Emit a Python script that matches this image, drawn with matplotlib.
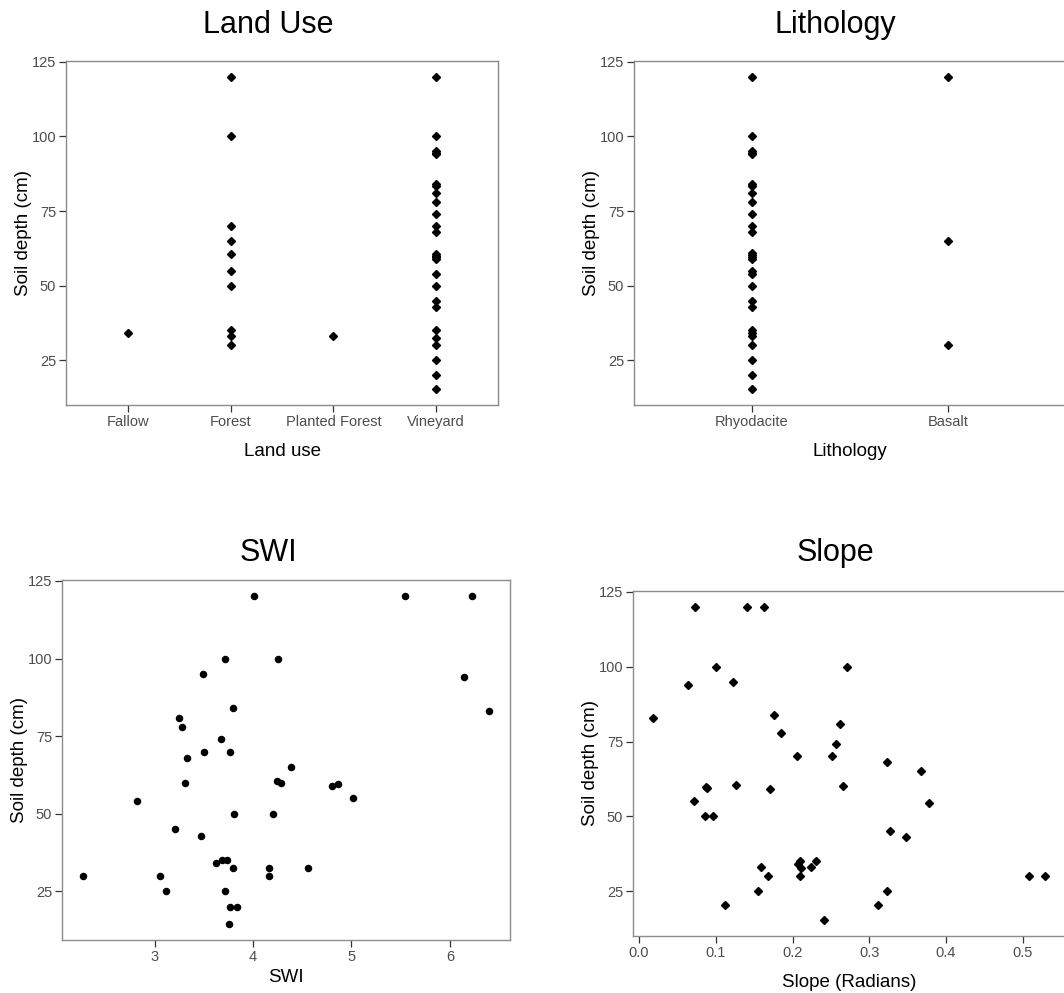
import matplotlib
matplotlib.use("Agg")
import matplotlib.pyplot as plt

plt.rcParams['font.family'] = ['Liberation Sans', 'DejaVu Sans']

# Land use panel (categorical)
land_use_cats = ['Fallow', 'Forest', 'Planted Forest', 'Vineyard']
fallow_depth = [34]
forest_depth = [120, 100, 70, 65, 60.5, 55, 50, 35, 33, 30]
planted_depth = [33]
vineyard_depth = [120, 100, 95, 94.5, 94, 84, 83.5, 81, 78, 74, 70, 68, 60.5,
                  60, 59.5, 59, 54, 50, 45, 43, 35, 32.5, 30, 25, 20, 15.3]

# Lithology panel (categorical)
litho_cats = ['Rhyodacite', 'Basalt']
rhyodacite_depth = [120, 100, 95, 94.5, 94, 84, 83.5, 81, 78, 74, 70, 68, 61,
                    60.2, 59.6, 59, 55, 54, 50, 45, 43, 35, 34, 33, 30, 25, 20, 15.3]
basalt_depth = [120, 65, 30]

# SWI panel
swi = [4.01, 5.54, 6.22, 3.72, 4.25, 3.49, 6.14, 3.80, 6.40, 3.25, 3.28, 3.67,
       3.50, 3.77, 3.33, 4.39, 4.24, 4.28, 3.31, 4.80, 4.86, 2.82, 5.02, 3.81,
       4.20, 3.21, 3.47, 3.62, 3.68, 3.74, 3.80, 4.16, 4.56, 2.27, 3.06, 4.16,
       3.12, 3.72, 3.77, 3.84, 3.76]
swi_depth = [120, 120, 120, 100, 100, 95, 94, 84, 83, 81, 78, 74,
             70, 70, 68, 65, 60.5, 60, 60, 59, 59.5, 54, 55, 50,
             50, 45, 43, 34, 35, 35, 32.5, 32.7, 32.7, 30, 30, 30,
             25, 25, 20, 20, 14.6]

# Slope panel
slope = [0.0725, 0.1407, 0.1625, 0.0999, 0.271, 0.0634, 0.122, 0.0178, 0.176,
         0.262, 0.185, 0.2567, 0.206, 0.2515, 0.323, 0.3675, 0.126, 0.0869,
         0.0882, 0.1703, 0.2659, 0.378, 0.0712, 0.0856, 0.096, 0.327, 0.348,
         0.1586, 0.1677, 0.2072, 0.2094, 0.2107, 0.2094, 0.2237, 0.2307,
         0.1547, 0.323, 0.1116, 0.3115, 0.241, 0.5087, 0.5295]
slope_depth = [120, 120, 120, 100, 100, 94, 95, 83, 84, 81, 78, 74, 70, 70, 68,
               65, 60.6, 59.9, 59.5, 59, 60, 54.3, 55.2, 50.2, 50.2, 45.2, 43.2,
               33.1, 30.1, 34.1, 35.1, 32.8, 30.1, 33.1, 35.1, 25, 25, 20.4,
               20.4, 15.3, 30.1, 30.1]

W, H = 1064, 993
fig = plt.figure(figsize=(W / 100, H / 100), dpi=100)


def add_panel(left, right, top, bottom):
    return fig.add_axes([left / W, (H - bottom) / H, (right - left) / W, (bottom - top) / H])


def style(ax):
    for s in ax.spines.values():
        s.set_color('#8c8c8c')
        s.set_linewidth(1.0)
    ax.tick_params(direction='out', length=5, width=0.9, color='#333333',
                   labelcolor='#4d4d4d', labelsize=10.5, pad=2)
    ax.set_yticks([25, 50, 75, 100, 125])
    ax.set_ylabel('Soil depth (cm)', fontsize=13.5, labelpad=0)


diamond = dict(marker='D', color='black', markersize=3.6, linestyle='none')

# Land Use
ax1 = add_panel(66, 498, 61, 405)
groups = [fallow_depth, forest_depth, planted_depth, vineyard_depth]
for i, g in enumerate(groups):
    ax1.plot([i + 1] * len(g), g, **diamond)
ax1.set_xticks(range(1, len(land_use_cats) + 1))
ax1.set_xticklabels(land_use_cats)
ax1.set_xlim(0.4, len(land_use_cats) + 0.6)
ax1.set_ylim(10.0, 125.3)
style(ax1)
ax1.set_xlabel('Land use', fontsize=13.5, labelpad=10)

# Lithology
ax2 = add_panel(634, 1066, 61, 405)
for i, g in enumerate([rhyodacite_depth, basalt_depth]):
    ax2.plot([i + 1] * len(g), g, **diamond)
ax2.set_xticks(range(1, len(litho_cats) + 1))
ax2.set_xticklabels(litho_cats)
ax2.set_xlim(0.4, len(litho_cats) + 0.6)
ax2.set_ylim(10.0, 125.3)
style(ax2)
ax2.set_xlabel('Lithology', fontsize=13.5, labelpad=10)

# SWI
ax3 = add_panel(62, 510, 580, 940)
ax3.plot(swi, swi_depth, marker='o', color='black', markersize=4.4, linestyle='none')
ax3.set_xlim(2.06, 6.61)
ax3.set_ylim(9.35, 125.3)
ax3.set_xticks([3, 4, 5, 6])
style(ax3)
ax3.set_xlabel('SWI', fontsize=13.5, labelpad=4)

# Slope
ax4 = add_panel(633, 1065, 591, 936)
ax4.plot(slope, slope_depth, **diamond)
ax4.set_xlim(-0.0078, 0.555)
ax4.set_ylim(10.0, 125.3)
ax4.set_xticks([0.0, 0.1, 0.2, 0.3, 0.4, 0.5])
ax4.set_xticklabels(['0.0', '0.1', '0.2', '0.3', '0.4', '0.5'])
style(ax4)
ax4.set_xlabel('Slope (Radians)', fontsize=13.5, labelpad=10)

# panel titles
for x, y, t in [(268, 25, 'Land Use'), (835, 25, 'Lithology'),
                (268, 553, 'SWI'), (835, 553, 'Slope')]:
    fig.text(x / W, 1 - y / H, t, ha='center', va='center', fontsize=22)

fig.savefig('out.png', dpi=100)
